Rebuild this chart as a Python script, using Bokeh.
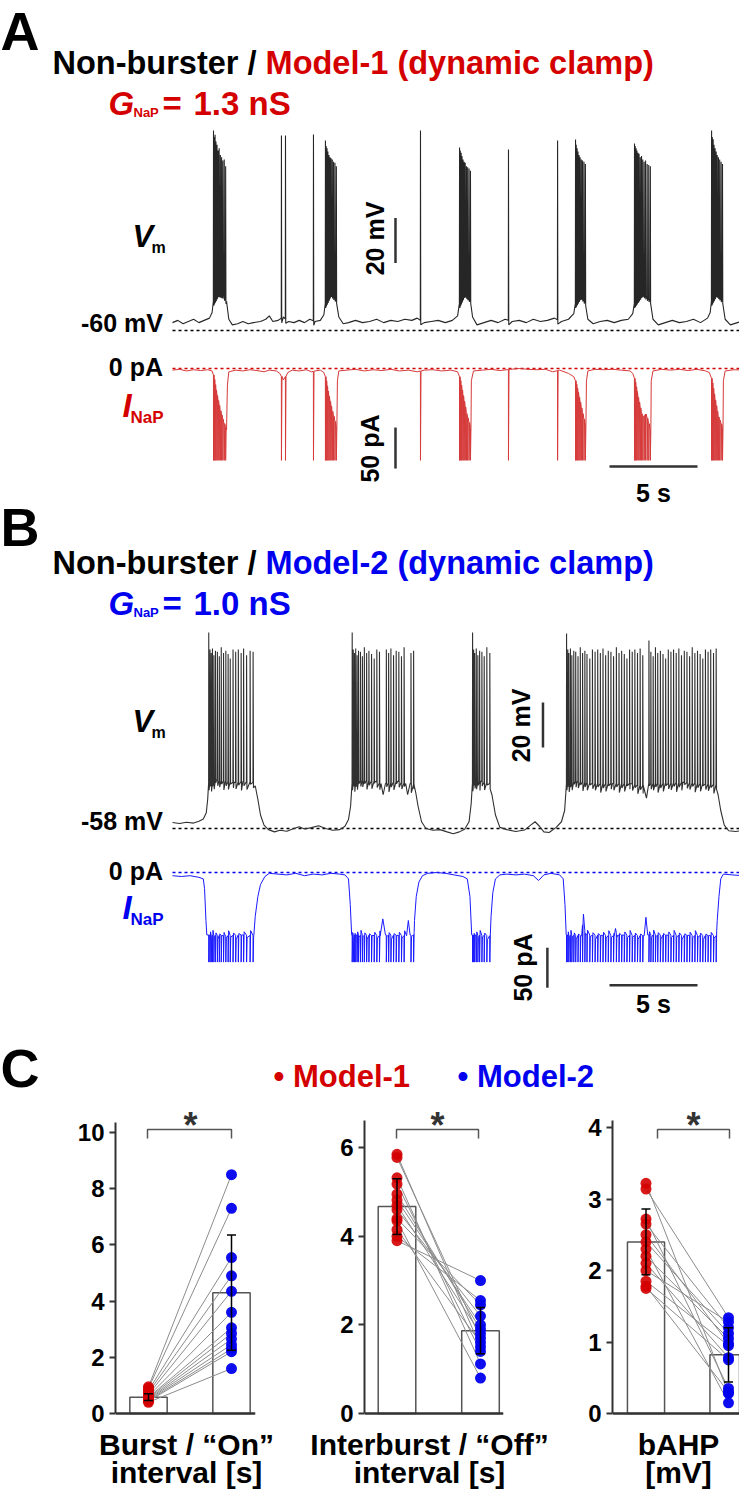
import numpy as np
from bokeh.plotting import figure
from bokeh.models import Range1d, Label, Span, FixedTicker, ColumnDataSource, Whisker, TeeHead
from bokeh.layouts import column, row
from bokeh.embed import file_html
from bokeh.resources import INLINE
from bokeh.core.properties import value

# ============================ DATA ============================
T_END = 33.0  # s, length of the displayed recordings

# ---- Panel A : Model-1, GNaP = 1.3 nS ----
A_REST_MV = -60
A_V_ENV = [(0, -56.5), (0.3, -55.5), (0.6, -57), (0.9, -56), (1.2, -55), (1.5, -56.5), (1.8, -55.5), (2.1, -54.5),
           (2.25, -52), (2.33, -47), (2.6, -43), (2.9, -44), (3.07, -47), (3.2, -55), (3.4, -57.5), (3.7, -57),
           (4.0, -56), (4.3, -57), (4.6, -56.5), (5.0, -56), (5.3, -55), (5.5, -53.5), (5.7, -56), (6.0, -55.5),
           (6.3, -54), (6.6, -56), (6.9, -56.5), (7.2, -55.5), (7.5, -56.5), (7.8, -55), (8.1, -56), (8.4, -55.5),
           (8.6, -53), (8.69, -48), (9.0, -43), (9.32, -46), (9.45, -54), (9.7, -57), (10.0, -56.5), (10.4, -55.5),
           (10.8, -56.5), (11.2, -56), (11.6, -55), (12.0, -56.5), (12.4, -55.5), (12.8, -56), (13.2, -55),
           (13.6, -55.5), (13.9, -54.5), (14.3, -56.5), (14.7, -56), (15.1, -55.5), (15.5, -56.5), (15.9, -55.5),
           (16.2, -53.5), (16.31, -48), (16.6, -43), (16.93, -46), (17.05, -54), (17.3, -57.5), (17.7, -56.5),
           (18.1, -55.5), (18.5, -56.5), (18.9, -55), (19.3, -56), (19.7, -55.5), (20.1, -56.5), (20.5, -55),
           (20.9, -56), (21.3, -55.5), (21.7, -54.5), (22.1, -56), (22.5, -55), (22.8, -52.5), (22.9, -48),
           (23.2, -44), (23.47, -47), (23.6, -55), (23.9, -57), (24.3, -56), (24.7, -55.5), (25.1, -56.5),
           (25.5, -55.5), (25.9, -55), (26.15, -52.5), (26.25, -48), (26.7, -43), (27.16, -46), (27.3, -55),
           (27.6, -57.5), (28.0, -56.5), (28.4, -55.5), (28.8, -56.5), (29.2, -56), (29.6, -55), (30.0, -56.5),
           (30.4, -54.5), (30.55, -52), (30.63, -47), (30.9, -43), (31.25, -46), (31.4, -55), (31.7, -57.5),
           (32.1, -56.5), (32.5, -55.5), (33.0, -56)]
A_BURST_SPIKES = [
    [2.33, 2.37, 2.42, 2.47, 2.53, 2.59, 2.65, 2.72, 2.79, 2.86, 2.94, 3.02],
    [8.69, 8.73, 8.78, 8.83, 8.89, 8.95, 9.01, 9.08, 9.15, 9.23, 9.31],
    [16.31, 16.35, 16.40, 16.45, 16.51, 16.57, 16.63, 16.70, 16.77, 16.85, 16.93],
    [22.90, 22.94, 22.99, 23.04, 23.10, 23.16, 23.23, 23.30, 23.38, 23.46],
    [26.25, 26.29, 26.34, 26.39, 26.45, 26.51, 26.58, 26.65, 26.72, 26.80, 26.88, 26.97, 27.06, 27.15],
    [30.63, 30.67, 30.72, 30.77, 30.83, 30.89, 30.95, 31.02, 31.09, 31.17, 31.25],
]
A_BURST_PEAKS = [
    [28.9, 26.0, 27.0, 24.0, 22.5, 20.0, 21.0, 18.0, 17.0, 15.5, 16.0, 13.0],
    [24.4, 22.0, 21.0, 19.5, 18.0, 17.0, 16.5, 16.0, 15.0, 14.5, 13.0],
    [21.3, 20.0, 19.0, 17.5, 16.0, 15.0, 14.5, 13.0, 12.5, 12.0, 11.0],
    [24.9, 22.5, 21.0, 19.5, 18.0, 17.0, 16.0, 15.5, 15.0, 14.0],
    [23.1, 22.0, 21.0, 20.0, 19.0, 18.5, 17.0, 17.5, 16.0, 15.0, 15.5, 14.0, 13.5, 13.0],
    [28.9, 26.0, 25.0, 22.5, 21.0, 19.5, 18.0, 17.0, 16.0, 15.0, 14.0],
]
A_SINGLE_SPIKES = [6.19, 6.42, 8.01, 14.09, 19.09, 21.88]
A_SINGLE_PEAKS = [26.7, 26.7, 27.1, 28.9, 20.4, 24.4]
A_I_ENV = [(0, -2), (0.4, -1), (0.8, -3), (1.2, -1.5), (1.6, -2.5), (2.0, -1.5), (2.25, -3),
           (2.33, -8), (2.5, -30), (2.7, -50), (2.9, -65), (3.07, -75), (3.12, -20), (3.2, -4),
           (3.6, -2), (4.0, -3), (4.4, -1.5), (4.8, -2.5), (5.2, -4), (5.5, -2), (5.9, -3), (6.1, -6), (6.3, -14),
           (6.55, -5), (6.8, -2), (7.2, -3), (7.6, -1.5), (7.9, -4), (8.1, -3), (8.4, -2), (8.6, -5),
           (8.69, -10), (8.85, -30), (9.05, -50), (9.32, -72), (9.37, -15), (9.45, -3),
           (9.9, -2), (10.4, -1), (10.9, -3), (11.4, -1.5), (11.9, -2.5), (12.4, -1), (12.9, -3), (13.4, -2),
           (13.9, -4), (14.3, -2), (14.8, -1.5), (15.3, -3), (15.8, -2), (16.2, -4),
           (16.31, -10), (16.5, -32), (16.7, -55), (16.93, -72), (16.98, -15), (17.1, -3),
           (17.6, -2), (18.1, -1), (18.6, -2.5), (19.2, -1), (19.7, 0), (20.2, -1), (20.7, -1.5), (21.2, -1),
           (21.6, -4), (22.0, -2), (22.5, -6), (22.8, -10),
           (22.9, -15), (23.1, -35), (23.3, -55), (23.47, -70), (23.52, -15), (23.6, -3),
           (24.0, -1), (24.5, -1.5), (25.0, -1), (25.5, -2), (26.0, -3), (26.15, -6),
           (26.25, -12), (26.45, -35), (26.7, -60), (26.9, -55), (27.16, -75), (27.2, -15), (27.3, -3),
           (27.8, -1), (28.3, -2), (28.8, -1), (29.3, -2.5), (29.8, -1), (30.3, -3), (30.5, -5),
           (30.63, -12), (30.8, -35), (31.0, -58), (31.25, -72), (31.3, -15), (31.4, -3),
           (31.9, -1.5), (32.4, -2), (33.0, -1.5)]
A_I_FLOOR = -112  # pA

# ---- Panel B : Model-2, GNaP = 1.0 nS ----
B_REST_MV = -58
B_V_ENV = [(0.0, -55.3), (0.4, -55.8), (0.8, -55.2), (1.2, -55.6), (1.5, -54.8), (1.75, -53.8), (1.92, -51),
           (2.0, -45), (2.05, -38), (2.5, -36.5), (3.0, -37), (3.5, -37.5), (4.0, -37), (4.6, -37.5),
           (4.7, -39), (4.85, -45), (5.0, -52), (5.2, -56.5), (5.45, -58.5),
           (5.8, -59.5), (6.1, -58.8), (6.5, -59.2), (6.9, -58), (7.2, -57.2), (7.5, -58.2), (7.9, -57.6),
           (8.3, -56.8), (8.7, -58), (9.1, -58.8), (9.5, -58.5), (9.8, -57), (10.0, -54), (10.12, -48),
           (10.2, -38), (10.8, -36.5), (11.5, -37), (11.85, -38), (11.97, -43), (12.1, -38), (12.8, -37),
           (13.25, -38), (13.36, -43), (13.5, -38), (13.72, -38.5),
           (13.82, -42), (13.95, -48), (14.15, -55), (14.4, -58),
           (14.8, -58.8), (15.2, -58.5), (15.6, -59.5), (15.95, -60.3), (16.3, -59.5), (16.6, -58.3),
           (16.85, -55), (16.97, -47), (17.04, -38), (17.5, -37), (18.05, -38),
           (18.15, -43), (18.35, -52), (18.6, -57.5),
           (19.0, -58.5), (19.5, -59.3), (20.0, -58.7), (20.35, -56.5), (20.6, -55), (20.85, -57), (21.1, -59.5),
           (21.4, -59.8), (21.8, -57.5), (22.1, -55), (22.28, -50), (22.35, -42), (22.39, -38),
           (23.0, -37), (24.0, -38), (25.0, -38), (26.0, -38), (26.75, -39), (26.93, -44.5), (27.06, -38),
           (28.0, -38), (29.0, -37.5), (30.0, -38), (30.9, -38.5),
           (31.0, -43), (31.15, -50), (31.35, -56.5), (31.6, -59),
           (32.0, -59.3), (32.5, -58.8), (32.8, -58.3), (33.0, -55.5)]
B_BURST_SPIKES = [
    [2.06, 2.13, 2.20, 2.27, 2.35, 2.44, 2.55, 2.66, 2.77, 2.90, 3.03, 3.16, 3.28, 3.44, 3.59, 3.74, 3.90,
     4.04, 4.21, 4.41, 4.58],
    [10.21, 10.27, 10.34, 10.41, 10.49, 10.57, 10.68, 10.79, 10.90, 11.03, 11.16, 11.31, 11.46, 11.61, 11.76,
     12.15, 12.28, 12.41, 12.56, 12.71, 12.86, 13.01, 13.16, 13.55, 13.70],
    [17.05, 17.11, 17.17, 17.26, 17.35, 17.45, 17.58, 17.71, 17.86, 18.03],
    [22.39, 22.46, 22.52, 22.61, 22.69, 22.80, 22.91, 23.04, 23.17, 23.30, 23.43, 23.55, 23.71, 23.86, 24.01,
     24.16, 24.31, 24.46, 24.61, 24.76, 24.91, 25.06, 25.22, 25.37, 25.52, 25.67, 25.82, 25.97, 26.12, 26.27,
     26.42, 26.57, 26.72, 27.07, 27.18, 27.31, 27.44, 27.57, 27.72, 27.87, 28.02, 28.17, 28.32, 28.47, 28.62,
     28.77, 28.92, 29.08, 29.23, 29.38, 29.53, 29.68, 29.83, 29.98, 30.13, 30.28, 30.43, 30.58, 30.74, 30.89],
]
B_FIRST_PEAKS = [29.1, 29.1, 29.1, 28.7]
B_PEAK_PATTERN = [21.5, 20.0, 22.0, 19.0, 21.0, 20.5, 18.5, 22.5, 20.0, 21.0, 19.5, 17.5, 21.5, 20.5]
B_AHP_PATTERN = [-3.0, -1.5, -4.0, -2.0, -3.5, -1.0, -2.5]
B_EXTRA_TALL = [(27.07, 25.6)]
B_I_ENV = [(0, -4), (0.5, -5), (1.0, -4), (1.5, -6), (1.75, -8), (1.82, -20), (1.9, -60), (1.95, -78),
           (3.0, -79), (4.0, -78), (4.62, -79), (4.7, -55), (4.85, -30), (5.0, -15), (5.25, -5), (5.5, -1),
           (6, -2), (6.5, -3), (7, -1), (7.5, -4), (8, -2), (8.5, -3), (9, -1), (9.5, -2), (9.8, -3), (10.0, -8),
           (10.1, -40), (10.18, -78), (11.8, -79), (11.95, -58), (12.1, -78), (13.3, -79), (13.4, -60),
           (13.5, -78), (13.72, -78), (13.75, -60), (13.85, -30), (14.0, -12), (14.2, -4), (14.5, -1), (15, 0),
           (15.5, -1), (16, -3), (16.5, -5), (16.75, -8), (16.9, -30), (17.0, -78), (18.05, -79),
           (18.1, -55), (18.2, -25), (18.35, -8), (18.6, -3), (19, -2), (19.5, -3), (20, -2), (20.5, -4),
           (20.8, -10), (21.1, -3), (21.5, -1), (22.0, -3), (22.2, -8), (22.3, -40), (22.37, -78),
           (23.25, -79), (23.35, -52), (23.45, -78), (25.1, -79), (25.17, -70), (25.25, -78), (26.8, -79),
           (26.9, -56), (27.0, -78), (30.9, -79), (30.95, -60), (31.05, -30), (31.15, -8), (31.3, -2),
           (31.8, -3), (32.4, -4), (33, -7)]
B_I_FLOOR = -112  # pA
B_I_BAND_PATTERN = [0.0, 4.0, -3.0, 6.0, -2.0, 3.0, -5.0, 2.0]

# ---- Panel C : paired comparisons (Model-1 vs Model-2) ----
GROUPS = ["Model-1", "Model-2"]
BURST_M1 = [0.95, 0.90, 0.82, 0.75, 0.68, 0.62, 0.58, 0.55, 0.52, 0.50, 0.47, 0.44, 0.40]
BURST_M2 = [8.5, 7.3, 5.55, 4.9, 4.35, 3.6, 3.05, 2.85, 2.65, 2.45, 2.3, 2.2, 1.6]
BURST_MEAN = [0.58, 4.3]
BURST_SD = [0.12, 2.05]
OFF_M1 = [5.85, 5.78, 5.32, 5.18, 4.95, 4.82, 4.70, 4.60, 4.40, 4.35, 4.15, 4.00, 3.90]
OFF_M2 = [1.5, 1.7, 1.12, 1.4, 1.9, 2.0, 1.8, 2.2, 2.45, 0.8, 1.6, 2.55, 3.0]
OFF_MEAN = [4.67, 1.87]
OFF_SD = [0.63, 0.52]
BAHP_M1 = [3.22, 3.14, 2.72, 2.65, 2.50, 2.40, 2.30, 2.20, 2.10, 2.00, 1.85, 1.78, 1.75]
BAHP_M2 = [0.28, 1.34, 0.35, 1.20, 0.98, 1.12, 0.15, 1.05, 0.78, 1.28, 0.95, 0.30, 0.75]
BAHP_MEAN = [2.40, 0.82]
BAHP_SD = [0.46, 0.38]
TICKS_BURST = [0, 2, 4, 6, 8, 10]
TICKS_OFF = [0, 2, 4, 6]
TICKS_BAHP = [0, 1, 2, 3, 4]
XLABELS = [("Burst / \u201cOn\u201d", "interval [s]"),
           ("Interburst / \u201cOff\u201d", "interval [s]"),
           ("bAHP", "[mV]")]

# ============================ STYLE / LAYOUT ============================
FONT = "Liberation Sans"
RED = "#d40000"
BLUE = "#0000ee"
RED_TRACE = "#d63a3a"
BLUE_TRACE = "#1a1aff"
BAR_GREY = "#333333"
MID = 0.358          # cap-centre above the baseline, in em
LETTER_FS = 54

W = 739
H_TOP, H_ROW, H_LAB = 1100, 327, 63
TOP_ROW, TOP_LAB = 1100, 1427

T0_PX, PX_PER_S = 172, 17.6


def value_range(ref_y, val, ppu, height=H_TOP, top=0):
    z = ref_y - top
    return Range1d(val - (height - z) / ppu, val + z / ppu)


def build_trace(env, spikes, peaks, pre, post, post_dv):
    et = np.array([e[0] for e in env], float)
    ev = np.array([e[1] for e in env], float)
    sp = np.array(spikes, float)
    pts = []
    for t, v in zip(et, ev):
        if sp.size and np.any((t > sp - pre) & (t < sp + post)):
            continue
        pts.append((float(t), float(v)))
    for i, (ts, pk) in enumerate(zip(spikes, peaks)):
        b = float(np.interp(ts, et, ev))
        dv = post_dv[i % len(post_dv)] if isinstance(post_dv, list) else post_dv
        pts += [(ts - pre, b), (ts, pk), (ts + post, b + dv)]
    pts.sort(key=lambda q: q[0])
    return [q[0] for q in pts], [q[1] for q in pts]


# ---------------- top figure: panels A, B and the header of C ----------------
p = figure(width=W, height=H_TOP, output_backend="svg", toolbar_location=None,
           x_range=Range1d(-T0_PX / PX_PER_S, (W - T0_PX) / PX_PER_S),
           y_range=value_range(330, A_REST_MV, 2.25),
           x_axis_location=None, y_axis_location=None, min_border=0,
           outline_line_color=None, background_fill_color="white", border_fill_color="white")
p.grid.visible = False
p.extra_y_ranges = {"IA": value_range(368, 0, 0.82), "VB": value_range(828, B_REST_MV, 2.25),
                    "IB": value_range(872, 0, 0.80), "py": Range1d(H_TOP, 0)}
p.extra_x_ranges = {"px": Range1d(0, W)}


def plabel(fig, xr, yr, text, size, color="black", style="bold", align="left", center=False, angle=0.0):
    y = yr if center else yr - MID * size
    fig.add_layout(Label(x=xr, y=y, x_range_name="px", y_range_name="py",
                         text=text, text_font=FONT, text_font_size=f"{size}px", text_font_style=style,
                         text_color=color, text_align=align, text_baseline="middle", angle=angle))


def draw_panel(vr, ir, rest, color, vcol, icol, v_env, spk, pk, v_dv, v_pre, v_post, i_env, i_floor, i_dv,
               bar_v, bar_i, bar_t):
    vt, vv = build_trace(v_env, spk, pk, v_pre, v_post, v_dv)
    it, iv = build_trace(i_env, spk, [i_floor] * len(spk), 0.004, 0.03, i_dv)
    p.segment(x0=[0], y0=[rest], x1=[T_END], y1=[rest], line_color="black", line_width=1.3, line_dash="3 3",
              y_range_name=vr)
    p.line(vt, vv, line_color=vcol, line_width=1.1, y_range_name=vr)
    p.segment(x0=[0], y0=[0], x1=[T_END], y1=[0], line_color=color, line_width=1.3, line_dash="3 3",
              y_range_name=ir)
    p.line(it, iv, line_color=icol, line_width=1, y_range_name=ir)
    p.segment(x0=[bar_v[0]], y0=[bar_v[1]], x1=[bar_v[0]], y1=[bar_v[1] + 20], line_color=BAR_GREY,
              line_width=2.5, y_range_name=vr)
    p.segment(x0=[bar_i[0]], y0=[bar_i[1]], x1=[bar_i[0]], y1=[bar_i[1] + 50], line_color=BAR_GREY,
              line_width=2.5, y_range_name=ir)
    p.segment(x0=[bar_t[0]], y0=[bar_t[1]], x1=[bar_t[0] + 5], y1=[bar_t[1]], line_color=BAR_GREY,
              line_width=2.5, y_range_name=ir)


def panel_texts(yoff, letter_base, letter, model_txt, color, g_txt, rest_txt, i_col, lab_y):
    plabel(p, 0, letter_base, letter, LETTER_FS)
    plabel(p, 52, yoff + 74, "Non-burster / ", 32.5)
    plabel(p, 52 + 6.556 * 32.5, yoff + 74, model_txt, 32.5, color=color)
    plabel(p, 108, yoff + 115, "G", 33, color=color, style="bold italic")
    plabel(p, 133, yoff + 117, "NaP", 13, color=color)
    plabel(p, 162, yoff + 115, "=", 33, color=color)
    plabel(p, 193, yoff + 115, g_txt, 33, color=color)
    v_base, rest_base, zero_base, i_base = lab_y
    plabel(p, 132, v_base, "V", 31, style="bold italic")
    plabel(p, 151, v_base + 6, "m", 16)
    plabel(p, 162.5, rest_base, rest_txt, 25, align="right")
    plabel(p, 162.5, zero_base, "0 pA", 25, align="right")
    plabel(p, 122, i_base, "I", 33, color=i_col, style="bold italic")
    plabel(p, 130, i_base + 6, "NaP", 17, color=i_col)


# Panel A
a_spk = [t for b in A_BURST_SPIKES for t in b] + A_SINGLE_SPIKES
a_pk = [v for b in A_BURST_PEAKS for v in b] + A_SINGLE_PEAKS
draw_panel("default", "IA", A_REST_MV, RED, "#262626", RED_TRACE, A_V_ENV, a_spk, a_pk, -2.0, 0.01, 0.015,
           A_I_ENV, A_I_FLOOR, 0.0, (12.67, -30), (12.67, -122), (24.83, -119.5))
panel_texts(0, 50, "A", "Model-1 (dynamic clamp)", RED, "1.3 nS", "-60 mV", RED, (247, 331, 375, 417))
plabel(p, 374, 238, "20 mV", 25, align="center", center=True, angle=np.pi / 2)
plabel(p, 369, 448, "50 pA", 25, align="center", center=True, angle=np.pi / 2)
plabel(p, 653, 492, "5 s", 25, align="center", center=True)

# Panel B
b_spk, b_pk = [], []
for bi, burst in enumerate(B_BURST_SPIKES):
    for j, t in enumerate(burst):
        b_spk.append(t)
        b_pk.append(B_FIRST_PEAKS[bi] if j == 0 else B_PEAK_PATTERN[(j - 1) % len(B_PEAK_PATTERN)])
for t_tall, v_tall in B_EXTRA_TALL:
    b_pk[b_spk.index(t_tall)] = v_tall
draw_panel("VB", "IB", B_REST_MV, BLUE, "#303030", BLUE_TRACE, B_V_ENV, b_spk, b_pk, B_AHP_PATTERN, 0.008, 0.02,
           B_I_ENV, B_I_FLOOR, B_I_BAND_PATTERN, (21.05, -22), (21.3, -144), (24.83, -141))
panel_texts(500, 546, "B", "Model-2 (dynamic clamp)", BLUE, "1.0 nS", "-58 mV", BLUE, (732, 829, 879, 919))
plabel(p, 520.5, 725, "20 mV", 25, align="center", center=True, angle=np.pi / 2)
plabel(p, 522, 967, "50 pA", 25, align="center", center=True, angle=np.pi / 2)
plabel(p, 653, 1003, "5 s", 25, align="center", center=True)

# Panel C header
plabel(p, 0, 1087, "C", LETTER_FS)
plabel(p, 273, 1087, "\u2022 " + GROUPS[0], 31, color=RED)
plabel(p, 457, 1087, "\u2022 " + GROUPS[1], 31, color=BLUE)

# ---------------- Panel C ----------------
C_FIG_W = [280, 285, 174]
C_AXIS_X = [115, 364, 612]
C_C1 = [148, 396.5, 645.5]
C_C2 = [231, 480, 728]
C_XLINE_END = [255, 503, 739]
C_PPU = [28.1, 44.3, 71.5]
C_AXIS_TOP = [1122, 1120, 1120]
Y0_PX = 1413
BRACKET_Y, BRACKET_DROP = 1129, 9
BRACKET_X = [(147, 231), (396, 478), (657, 729)]
STAR_X = [190, 437, 693]
STAR_Y = 1125
LABEL_X = [186, 429, 678]
LABEL_BASE = [1455, 1483]


def c_panel(i, m1, m2, mean, sd, ticks):
    w = C_FIG_W[i]
    left = sum(C_FIG_W[:i])
    mbl = int(round(C_AXIS_X[i] - left))
    mbr = int(round(left + w - C_XLINE_END[i]))
    fl, fr = left + mbl, left + w - mbr
    c1, c2 = C_C1[i], C_C2[i]
    spc = c2 - c1
    ppu = C_PPU[i]
    z = Y0_PX - TOP_ROW
    q = figure(width=w, height=H_ROW, output_backend="svg", toolbar_location=None,
               x_range=Range1d(1 - (c1 - fl) / spc, 2 + (fr - c2) / spc),
               y_range=Range1d(-(H_ROW - z) / ppu, z / ppu),
               x_axis_location=None, y_axis_location="left",
               min_border_left=mbl, min_border_right=mbr, min_border_top=0, min_border_bottom=0,
               outline_line_color=None, background_fill_color="white", border_fill_color="white")
    q.grid.visible = False
    ax = q.yaxis[0]
    ax.ticker = FixedTicker(ticks=ticks)
    ax.bounds = (0, (Y0_PX - C_AXIS_TOP[i]) / ppu)
    ax.axis_line_width = 2
    ax.axis_line_color = BAR_GREY
    ax.major_tick_line_width = 2
    ax.major_tick_line_color = BAR_GREY
    ax.major_tick_out = 6
    ax.major_tick_in = 0
    ax.minor_tick_line_color = None
    ax.major_label_standoff = 5
    ax.major_label_text_font = FONT
    ax.major_label_text_font_size = "24px"
    ax.major_label_text_font_style = "bold"
    ax.major_label_text_color = "black"

    n = len(m1)
    q.vbar(x=[1, 2], top=mean, width=0.45, fill_color="white", line_color="#555555", line_width=1.5)
    q.multi_line(xs=[[1, 2]] * n, ys=[[a, b] for a, b in zip(m1, m2)], line_color="#8c8c8c", line_width=1)
    q.scatter(x=[1] * n, y=m1, size=11, fill_color=RED, line_color=None, fill_alpha=0.9)
    q.scatter(x=[2] * n, y=m2, size=11, fill_color=BLUE, line_color=None, fill_alpha=0.95)
    src = ColumnDataSource(dict(base=[1, 2], upper=[m + s for m, s in zip(mean, sd)],
                                lower=[m - s for m, s in zip(mean, sd)]))
    q.add_layout(Whisker(source=src, base="base", upper="upper", lower="lower", line_color="black",
                         line_width=1.5, level="annotation",
                         upper_head=TeeHead(size=9, line_color="black", line_width=1.5),
                         lower_head=TeeHead(size=9, line_color="black", line_width=1.5)))
    q.add_layout(Span(location=0, dimension="width", line_color=BAR_GREY, line_width=2.5))

    def dx(xp):
        return 1 + (xp - c1) / spc

    yb = (Y0_PX - BRACKET_Y) / ppu
    d = BRACKET_DROP / ppu
    bx1, bx2 = dx(BRACKET_X[i][0]), dx(BRACKET_X[i][1])
    q.line(x=[bx1, bx1, bx2, bx2], y=[yb - d, yb, yb, yb - d], line_color="#555555", line_width=1.5)
    q.add_layout(Label(x=dx(STAR_X[i]), y=(Y0_PX - STAR_Y) / ppu, text="*", text_font=FONT,
                       text_font_size="36px", text_font_style="bold", text_color="#333333",
                       text_align="center", text_baseline="middle"))
    return q


p1 = c_panel(0, BURST_M1, BURST_M2, BURST_MEAN, BURST_SD, TICKS_BURST)
p2 = c_panel(1, OFF_M1, OFF_M2, OFF_MEAN, OFF_SD, TICKS_OFF)
p3 = c_panel(2, BAHP_M1, BAHP_M2, BAHP_MEAN, BAHP_SD, TICKS_BAHP)

# x-labels strip
pl = figure(width=W, height=H_LAB, output_backend="svg", toolbar_location=None,
            x_range=Range1d(0, W), y_range=Range1d(H_LAB, 0), x_axis_location=None, y_axis_location=None,
            min_border=0, outline_line_color=None, background_fill_color="white", border_fill_color="white")
pl.grid.visible = False
LAB_FS = 30
lx, ly, lt = [], [], []
for xr, (l1, l2) in zip(LABEL_X, XLABELS):
    lx += [xr, xr]
    ly += [LABEL_BASE[0] - MID * LAB_FS - TOP_LAB, LABEL_BASE[1] - MID * LAB_FS - TOP_LAB]
    lt += [l1, l2]
pl.text(x=lx, y=ly, text=lt, text_font=value(FONT), text_font_size=value(f"{LAB_FS}px"),
        text_font_style=value("bold"), text_color="black", text_align=value("center"),
        text_baseline=value("middle"))

layout = column(p, row(p1, p2, p3), pl)
open("out.html", "w").write(file_html(layout, INLINE))
